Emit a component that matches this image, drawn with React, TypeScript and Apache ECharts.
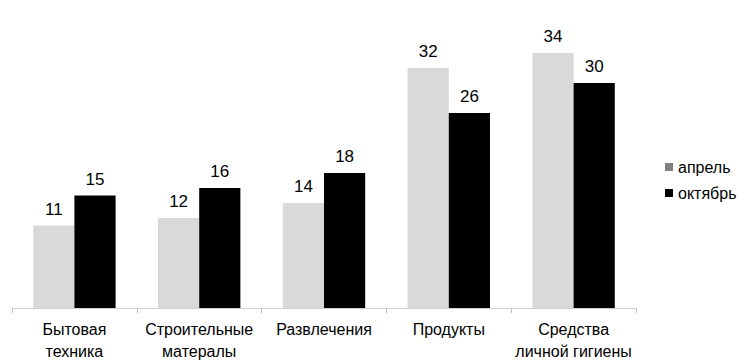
import React, { useEffect, useRef } from "react";
import * as echarts from "echarts";

const categories = ["Бытовая\nтехника", "Строительные\nматералы", "Развлечения", "Продукты", "Средства\nличной гигиены"];
const aprilValues = [11, 12, 14, 32, 34];
const octoberValues = [15, 16, 18, 26, 30];
const seriesNames = ["апрель", "октябрь"];

export default function App() {
  const ref = useRef<HTMLDivElement>(null);
  useEffect(() => {
    if (!ref.current) return;
    const chart = echarts.init(ref.current, null, { renderer: "svg" });
    const font = "Liberation Sans, Arial, sans-serif";
    chart.setOption({
      animation: false,
      textStyle: { fontFamily: font },
      grid: { left: 12, right: 108, top: 8, bottom: 51, containLabel: false },
      legend: {
        orient: "vertical",
        left: 660,
        top: 154,
        itemWidth: 8,
        itemHeight: 8,
        itemGap: 10,
        icon: "rect",
        textStyle: { fontSize: 16, color: "#000", fontFamily: font },
        data: [
          { name: seriesNames[0], itemStyle: { color: "#808080" } },
          { name: seriesNames[1], itemStyle: { color: "#000000" } },
        ],
      },
      xAxis: {
        type: "category",
        data: categories,
        axisLine: { lineStyle: { color: "#d0d0d0", width: 1 } },
        axisTick: { show: true, length: 5, lineStyle: { color: "#c0c0c0" } },
        axisLabel: { fontSize: 16, color: "#000", lineHeight: 22, margin: 10, fontFamily: font, interval: 0 },
      },
      yAxis: { type: "value", min: 0, max: 40, show: false, splitLine: { show: false } },
      series: [
        {
          name: seriesNames[0],
          type: "bar",
          data: aprilValues,
          barWidth: "33%",
          barGap: "0%",
          itemStyle: { color: "#d9d9d9" },
          label: { show: true, position: "top", distance: 8, fontSize: 17, color: "#000", fontFamily: font },
        },
        {
          name: seriesNames[1],
          type: "bar",
          data: octoberValues,
          barWidth: "33%",
          barGap: "0%",
          itemStyle: { color: "#000000" },
          label: { show: true, position: "top", distance: 8, fontSize: 17, color: "#000", fontFamily: font },
        },
      ],
    });
    return () => chart.dispose();
  }, []);
  return <div ref={ref} style={{ width: 744, height: 362, position: "absolute", left: 0, top: 0 }} />;
}
